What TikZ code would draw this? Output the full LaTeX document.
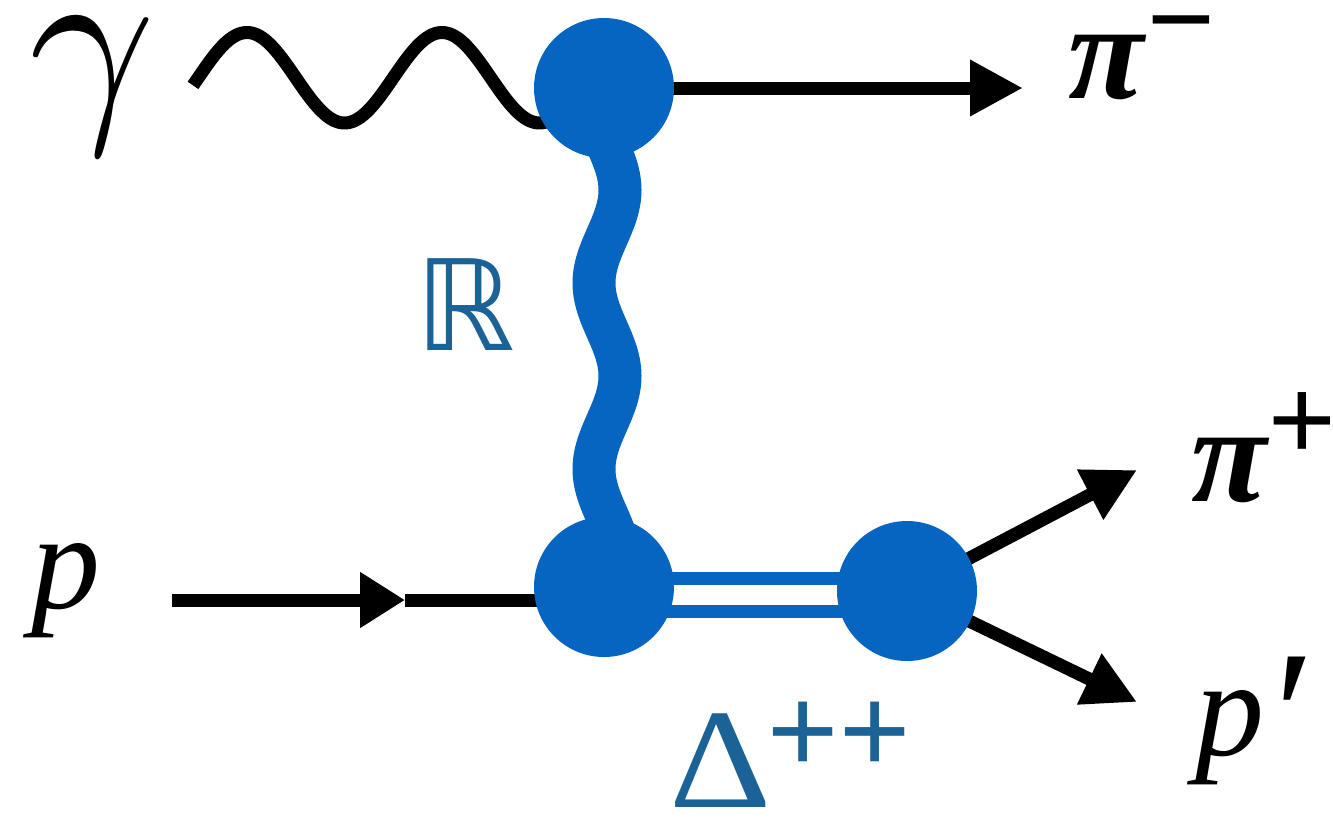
\documentclass[tikz,border=0pt]{standalone}
\usepackage{graphicx}
\usepackage{amssymb}
\usepackage{fontspec}
\setmainfont{Liberation Serif}
\newfontfamily\sansf{Liberation Sans}
\newfontfamily\dejaf{DejaVu Sans}
\usetikzlibrary{arrows.meta}
\definecolor{vblue}{RGB}{5,101,192}
\definecolor{lblue}{RGB}{27,98,150}
\pgfdeclarelayer{bg}
\pgfsetlayers{bg,main}
\begin{document}
\begin{tikzpicture}[x=0.5pt,y=-0.5pt,
  vertex/.style={circle,fill=vblue,inner sep=0pt,minimum size=70pt},
  fermion/.style={line width=6.5pt,black,line join=miter},
  tipped/.style={-{Triangle[length=26.5pt,width=26.5pt]}},
  shorttip/.style={-{Triangle[length=22.5pt,width=26.5pt]}},
  photon/.style={line width=6.5pt,black},
  reggeon/.style={line width=21.5pt,vblue},
  lbl/.style={inner sep=0pt,font=\fontsize{69}{69}\selectfont\itshape},
  pilbl/.style={inner sep=0pt,font=\fontsize{69}{69}\selectfont\bfseries\itshape},
  sup/.style={inner sep=0pt,font=\fontsize{58}{58}\selectfont\sansf},
  blbl/.style={inner sep=0pt,text=lblue}
]
\useasboundingbox (0,0) rectangle (1333,821);

% vertices
\node[vertex] (v1) at (604,88) {};
\node[vertex] (v2) at (604,587) {};
\node[vertex] (v3) at (907,591) {};

% free ends
\coordinate (g0) at (193,75);
\coordinate (pin) at (172,600);
\coordinate (pmid) at (405,600);
\coordinate (pimend) at (1023,88);
\coordinate (pipend) at (1137,470);
\coordinate (ppend) at (1137,702);

\begin{pgfonlayer}{bg}
  % photon
  \draw[photon] plot[domain=193:560,samples=150,smooth] (\x,{77.75-45.25*sin((\x-198.25)*1.84615)});
  % reggeon
  \draw[reggeon] plot[domain=140:535,samples=120,smooth,variable=\t] ({607+13*cos((\t-190)*1.93548)},\t);
  % outgoing pi-
  \draw[fermion,tipped] (v1.center) -- (pimend);
  % incoming proton
  \draw[fermion,shorttip] (pin) -- (pmid);
  \draw[fermion] (pmid) -- (pin -| v2.center);
  % Delta double line
  \draw[line width=6.5pt,vblue,double=white,double distance=10pt] ([yshift=-4pt]v2.center) -- ([yshift=-4pt]v2.center -| v3.center);
  % decays
  \draw[fermion,tipped] (v3.center) -- (pipend);
  \draw[fermion,tipped] (v3.center) -- (ppend);
\end{pgfonlayer}

% labels
\node[inner sep=0pt,anchor=base] (lg) at (93,112) {\scalebox{11}{$\gamma$}};
\node[pilbl,anchor=north] (lpim) at (1106,35) {π};
\node[sup,anchor=north] (lpimsup) at (1181,15) {−};
\node[pilbl,anchor=north] (lpip) at (1229,438) {π};
\node[sup,anchor=north] (lpipsup) at (1302,392) {+};
\node[lbl,anchor=north] (lp) at (66,543) {p};
\node[lbl,anchor=north] (lpp) at (1230,690) {p};
\node[inner sep=0pt,anchor=north,font=\fontsize{92}{92}\selectfont\itshape] (lppr) at (1284,657) {′};
\node[blbl,anchor=north,font=\fontsize{63}{63}\selectfont\dejaf] (lR) at (465,258) {ℝ};
\node[blbl,anchor=south] (lD) at (721,808) {\scalebox{1.12}[1]{\fontsize{71}{71}\selectfont Δ}};
\node[blbl,anchor=north,font=\fontsize{61}{61}\selectfont\sansf] (lDsup) at (839,702) {++};
\end{tikzpicture}
\end{document}
